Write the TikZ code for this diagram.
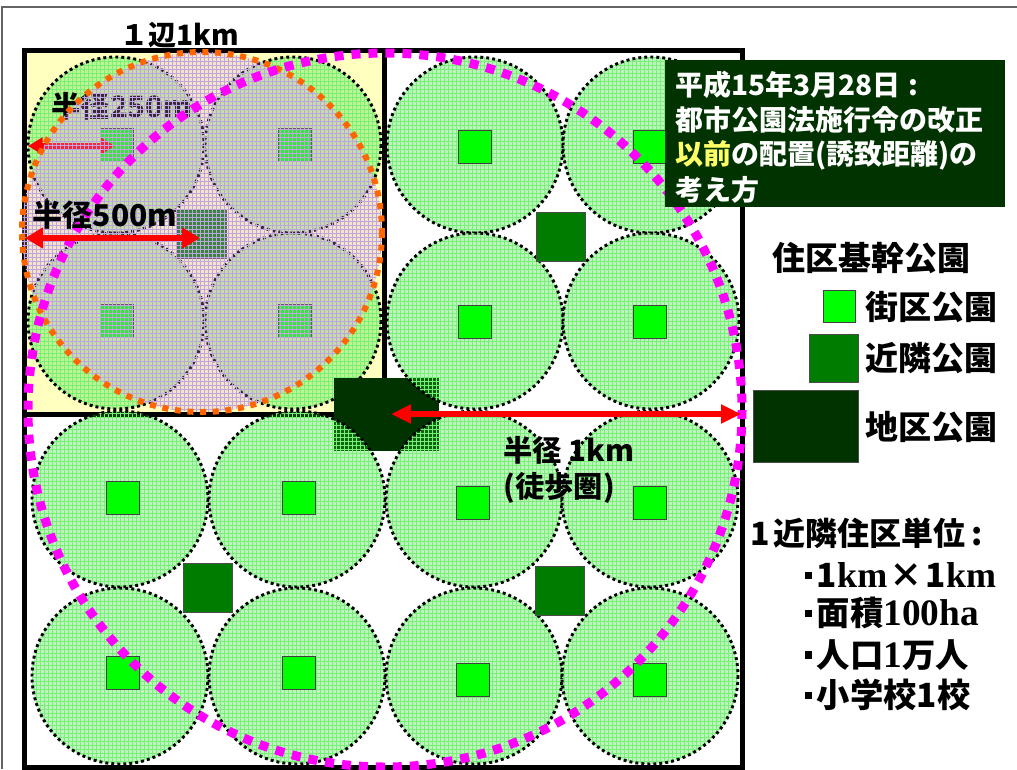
\documentclass[tikz,border=0pt]{standalone}
\usepackage{fontspec}
\setmainfont{Noto Sans CJK JP}
\newfontfamily\serifbf{Liberation Serif}
\usetikzlibrary{arrows.meta,patterns}
\definecolor{zonegreen}{RGB}{40,225,40}
\definecolor{gridgreen}{RGB}{120,240,120}
\definecolor{tlyellow}{RGB}{255,255,192}
\definecolor{overlaycol}{RGB}{220,150,230}
\definecolor{overgrid}{RGB}{190,165,225}
\definecolor{cA}{RGB}{0,255,0}
\definecolor{cB}{RGB}{0,125,0}
\definecolor{cC}{RGB}{0,51,0}
\definecolor{orangedot}{RGB}{255,102,0}
\definecolor{magentadot}{RGB}{255,0,255}
\definecolor{hiyellow}{RGB}{255,255,102}
\definecolor{framegray}{RGB}{100,100,100}
\newcommand\fsz[1]{\fontsize{#1}{#1}\selectfont}
\newcommand\sqdot{\makebox[0.5em][c]{\raisebox{0.26em}{\rule{0.22em}{0.22em}}}}
\newcommand\zonecircle[2]{%
  \fill[zonegreen,fill opacity=0.3] (#1,#2) circle[radius=88];
  \fill[pattern=grid,pattern color=gridgreen] (#1,#2) circle[radius=88];
  \draw[zoneline] (#1,#2) circle[radius=88];}
\begin{document}
\begin{tikzpicture}[x=0.75pt,y=-0.75pt,
  zoneline/.style={draw=black,line width=2.2pt,dash pattern=on 2.2pt off 2.3pt},
  parkA/.style={draw=black!75,line width=0.75pt,fill=cA,minimum size=24.75pt,inner sep=0pt},
  parkB/.style={draw=black!70,line width=0.75pt,fill=cB,minimum size=36.75pt,inner sep=0pt},
  parkC/.style={fill=cC,inner sep=0pt},
  redarrow/.style={draw=red},
  lbl/.style={inner sep=0pt,font=\bfseries}]
\useasboundingbox (0,0) rectangle (1017,769);
\fill[white] (0,0) rectangle (1017,769);
\draw[framegray,line width=1.5pt] (2,769) -- (2,7) -- (1017,7);

% ---- top-left neighbourhood unit
\fill[tlyellow] (24,50) rectangle (384,414);
\zonecircle{116}{145}
\zonecircle{293}{145}
\zonecircle{116}{321}
\zonecircle{293}{321}
\node[parkA] (s11) at (117,145) {};
\node[parkA] (s12) at (295,145) {};
\node[parkA] (s21) at (117,321) {};
\node[parkA] (s22) at (295,321) {};
\node[parkB] (n1) at (202,234) {};
\draw[line width=3.75pt] (24,50) rectangle (742,767);
\draw[line width=3.75pt] (24,50) rectangle (384,414);
\coordinate (r1a) at (28,146);
\coordinate (r1b) at (115,146);
\draw[redarrow,line width=5pt,{Triangle[length=11pt,width=12.5pt]}-{Triangle[length=11pt,width=12.5pt]}] (r1a) -- (r1b);
\node[lbl,font=\bfseries\fsz{22pt}] (t250) at (122,106) {半径250m};
\fill[overlaycol,fill opacity=0.25] (202,232) circle[radius=180];
\fill[pattern=grid,pattern color=overgrid] (202,232) circle[radius=180];
\draw[orangedot,line width=4.5pt,dash pattern=on 4.5pt off 5pt] (202,232) circle[radius=180];

% ---- district park
\node[parkC,minimum width=78.75pt,minimum height=54.75pt] (dist) at (386.5,414.5) {};

% ---- other zones
\zonecircle{475}{145}
\zonecircle{651}{145}
\zonecircle{475}{321}
\zonecircle{651}{321}
\zonecircle{120}{499}
\zonecircle{297}{499}
\zonecircle{474}{499}
\zonecircle{650}{499}
\zonecircle{120}{676}
\zonecircle{297}{676}
\zonecircle{474}{676}
\zonecircle{650}{676}
\node[parkA] (s13) at (475,147) {};
\node[parkA] (s14) at (650,147) {};
\node[parkA] (s23) at (475,322) {};
\node[parkA] (s24) at (650,322) {};
\node[parkA] (s31) at (123,498) {};
\node[parkA] (s32) at (299,498) {};
\node[parkA] (s33) at (473,503) {};
\node[parkA] (s34) at (650,503) {};
\node[parkA] (s41) at (123,673) {};
\node[parkA] (s42) at (299,673) {};
\node[parkA] (s43) at (473,680) {};
\node[parkA] (s44) at (650,680) {};
\node[parkB] (n2) at (561,237) {};
\node[parkB] (n3) at (208,588) {};
\node[parkB] (n4) at (560,591) {};

% ---- walking radius
\draw[magentadot,line width=6.75pt,dash pattern=on 6.75pt off 6pt] (385,410) circle[radius=357];

% ---- arrows and labels
\coordinate (r2a) at (25,238);
\coordinate (r2b) at (200,238);
\draw[redarrow,line width=5pt,{Triangle[length=13.5pt,width=15pt]}-{Triangle[length=13.5pt,width=15pt]}] (r2a) -- (r2b);
\node[lbl,font=\bfseries\fsz{22.5pt}] (t500) at (105,215) {半径500m};
\coordinate (r3a) at (391,414);
\coordinate (r3b) at (741,414);
\draw[redarrow,line width=4.5pt,{Triangle[length=15pt,width=13.5pt]}-{Triangle[length=15pt,width=13.5pt]}] (r3a) -- (r3b);
\node[lbl,font=\bfseries\fsz{22pt},anchor=west] (t1km) at (503,450) {半径 1km};
\node[lbl,font=\bfseries\fsz{22pt},anchor=west] (twalk) at (503,488) {(徒歩圏)};
\node[lbl,font=\bfseries\fsz{21pt},anchor=west] (tside) at (120,35) {１辺1km};

% ---- title box
\node[fill=cC,inner sep=0pt,minimum width=255pt,minimum height=110.25pt,anchor=north west] (tbox) at (665,60) {};
\node[lbl,text=white,font=\bfseries\fsz{21pt},anchor=west] (b1) at (675,85) {平成15年3月28日\hspace{0.3em}:};
\node[lbl,text=white,font=\bfseries\fsz{21pt},anchor=west] (b2) at (675,120) {都市公園法施行令の改正};
\node[lbl,text=white,font=\bfseries\fsz{21pt},anchor=west] (b3) at (675,155) {{\color{hiyellow}以前}の配置(誘致距離)の};
\node[lbl,text=white,font=\bfseries\fsz{21pt},anchor=west] (b4) at (675,190) {考え方};

% ---- legend
\node[lbl,font=\bfseries\fsz{24.75pt}] (lgt) at (871,258) {住区基幹公園};
\node[parkA,minimum size=24pt] (lgA) at (839,306) {};
\node[parkB,minimum width=36.75pt,minimum height=36pt] (lgB) at (833.5,358) {};
\node[parkC,draw=black!70,line width=0.75pt,minimum width=78.75pt,minimum height=54pt] (lgC) at (805.5,426) {};
\node[lbl,font=\bfseries\fsz{24.75pt},anchor=west] (lgAt) at (865,307) {街区公園};
\node[lbl,font=\bfseries\fsz{24.75pt},anchor=west] (lgBt) at (865,358) {近隣公園};
\node[lbl,font=\bfseries\fsz{24.75pt},anchor=west] (lgCt) at (865,427) {地区公園};

% ---- unit description
\node[lbl,font=\bfseries\fsz{24pt},anchor=west] (u0) at (750,533) {1\hspace{0.12em}近隣住区単位\hspace{0.2em}:};
\node[lbl,font=\bfseries\fsz{25pt},anchor=west] (u1) at (800,575) {\sqdot 1{\serifbf\bfseries\fsz{27pt}km}\hspace{0.08em}×\hspace{0.08em}1{\serifbf\bfseries\fsz{27pt}km}};
\node[lbl,font=\bfseries\fsz{25pt},anchor=west] (u2) at (800,613) {\sqdot 面積{\serifbf\bfseries\fsz{28pt}100ha}};
\node[lbl,font=\bfseries\fsz{25pt},anchor=west] (u3) at (800,655) {\sqdot 人口{\serifbf\bfseries\fsz{28pt}1}万人};
\node[lbl,font=\bfseries\fsz{25pt},anchor=west] (u4) at (800,695) {\sqdot 小学校1校};
\end{tikzpicture}
\end{document}
